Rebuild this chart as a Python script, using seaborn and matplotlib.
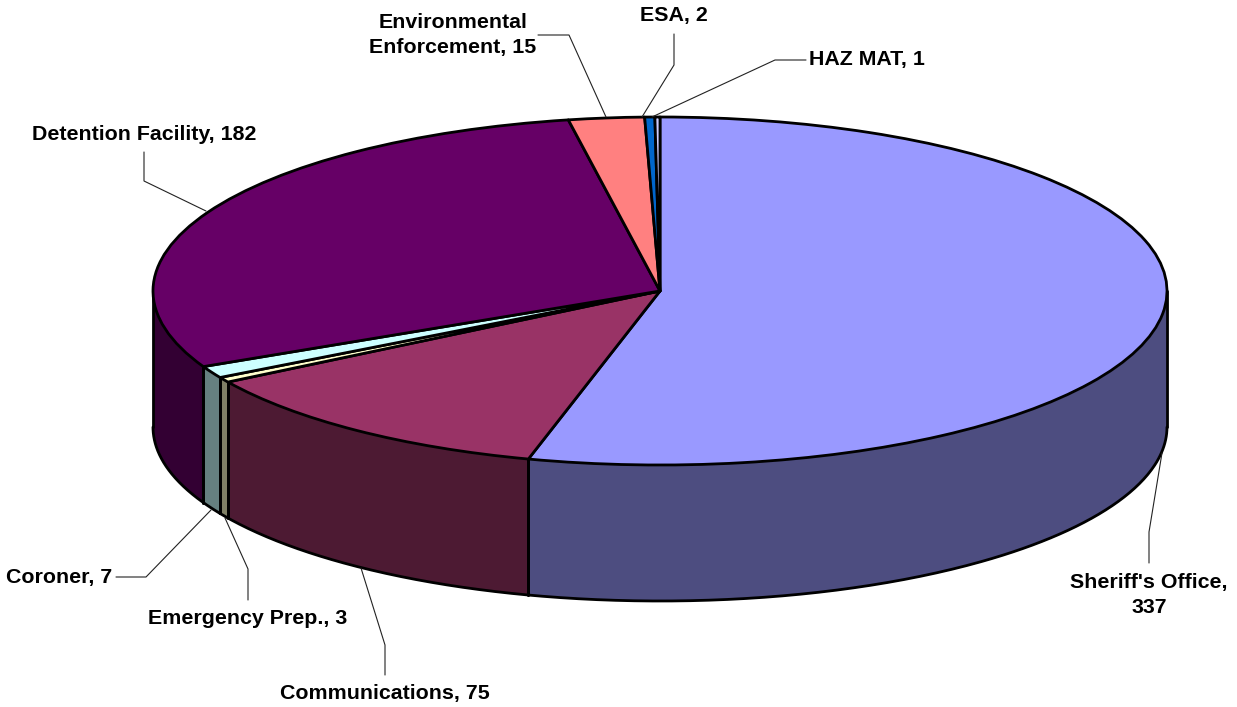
import numpy as np
import matplotlib
matplotlib.use("Agg")
import matplotlib.pyplot as plt
import seaborn as sns

departments = ["Sheriff's Office", "Communications", "Emergency Prep.", "Coroner",
               "Detention Facility", "Environmental Enforcement", "ESA", "HAZ MAT"]
counts = [337, 75, 3, 7, 182, 15, 2, 1]
top_colors = ["#9999ff", "#993366", "#ffffcc", "#ccffff", "#660066", "#ff8080", "#0066cc", "#ccccff"]
side_colors = ["#4d4d80", "#4d1a33", "#808066", "#668080", "#330033", "#804040", "#003366", "#666680"]
label_texts = ["Sheriff's Office,\n337", "Communications, 75", "Emergency Prep., 3", "Coroner, 7",
               "Detention Facility, 182", "Environmental\nEnforcement, 15", "ESA, 2", "HAZ MAT, 1"]

W, H = 1237, 707
CX, CY, RX, RY, DEPTH = 660.0, 291.0, 507.0, 174.0, 136.0
EDGE = 2.0

sns.set_theme(style="white")
plt.rcParams["font.family"] = ["Liberation Sans", "DejaVu Sans"]

def ux(px):
    return (px - CX) / RX

def uy(py):
    return (CY - py) / RY

fig = plt.figure(figsize=(W / 100, H / 100), dpi=100, facecolor="white")
ax = fig.add_axes([0, 0, 1, 1])

# side wall (only the front half of the disc is visible)
d = DEPTH / RY
edges = np.concatenate([[0], np.cumsum(counts)]) / np.sum(counts) * 360.0
for a, b, col in zip(edges[:-1], edges[1:], side_colors):
    lo, hi = max(a, 90.0), min(b, 270.0)
    if hi <= lo:
        continue
    t = np.radians(np.linspace(lo, hi, 200))
    x, y = np.sin(t), np.cos(t)
    ax.fill_between(x, y, y - d, color=col, lw=0, zorder=1)
    for i in (0, -1):
        ax.plot(np.r_[x[i], x[i]], np.r_[y[i], y[i] - d], color="black", lw=EDGE, zorder=2,
                solid_capstyle="round")
    ax.plot(x, y - d, color="black", lw=EDGE, zorder=2, solid_capstyle="round")

# top surface
wedges, _ = ax.pie(counts, colors=sns.color_palette(top_colors), startangle=90, counterclock=False,
                   radius=1.0, center=(0, 0),
                   wedgeprops=dict(edgecolor="black", linewidth=EDGE, joinstyle="round"))
for w in wedges:
    w.set_zorder(3)
ax.set_aspect("auto")
ax.set_xlim(ux(0), ux(W))
ax.set_ylim(uy(H), uy(0))
ax.axis("off")

# leader lines, in reference pixels
leaders = {
    "Sheriff's Office": [(1149, 563), (1149, 532), (1162, 453)],
    "Communications": [(385, 675), (385, 645), (361, 568)],
    "Emergency Prep.": [(248, 600), (248, 569), (225, 518)],
    "Coroner": [(116, 577), (146, 577), (211, 510)],
    "Detention Facility": [(144, 152), (144, 181), (206, 211)],
    "Environmental Enforcement": [(538, 35), (569, 35), (606, 117)],
    "ESA": [(674, 34), (674, 65), (642, 117)],
    "HAZ MAT": [(806, 60), (775, 60), (652, 117)],
}
for pts in leaders.values():
    xs, ys = zip(*pts)
    ax.plot([ux(p) for p in xs], [uy(p) for p in ys], color="#222222", lw=0.8, zorder=4)

anchors = [(1149, 595, "center"), (385, 693, "center"), (248, 619, "center"), (6, 577, "left"),
           (144, 134, "center"), (453, 35, "center"), (674, 15, "center"), (809, 60, "left")]
for txt, (px, py, ha) in zip(label_texts, anchors):
    ax.text(ux(px), uy(py), txt, ha=ha, va="center", ma="center", fontsize=15.4,
            fontweight="bold", color="black", linespacing=1.4, zorder=5)

fig.savefig("out.png", dpi=100, facecolor="white")
